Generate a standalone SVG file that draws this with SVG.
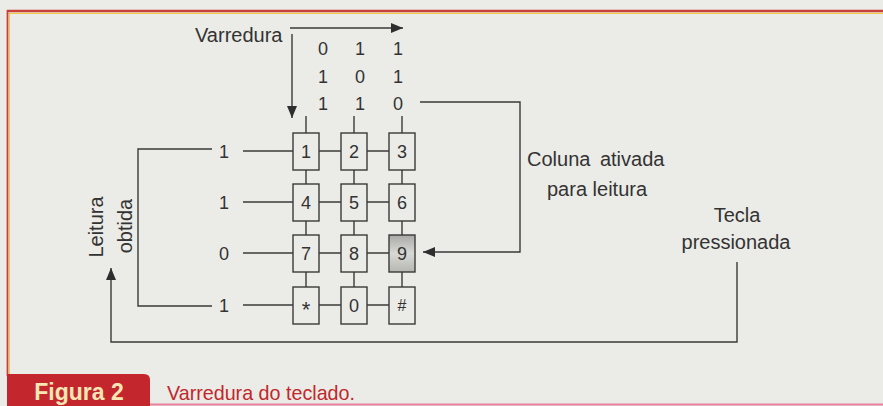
<svg xmlns="http://www.w3.org/2000/svg" width="883" height="406" viewBox="0 0 883 406">
<defs>
<style>
.t{font-family:"Liberation Sans",Arial,sans-serif;fill:#333;}
.lbl{font-size:20px;}
.dg{font-size:18px;text-anchor:middle;}
.ln{fill:none;stroke:#3a3a3a;stroke-width:1.4;}
.key{fill:#ebebe7;stroke:#3a3a3a;stroke-width:1.4;}
</style>
<marker id="ah" markerUnits="userSpaceOnUse" markerWidth="13" markerHeight="10" refX="12" refY="5" orient="auto">
<path d="M0,0 L12,5 L0,10 Z" fill="#2e2e2e"/>
</marker>
<linearGradient id="g9" x1="0" y1="0" x2="0" y2="1">
<stop offset="0" stop-color="#a9a9a7"/>
<stop offset="0.5" stop-color="#d8d8d4"/>
<stop offset="1" stop-color="#b5b5b2"/>
</linearGradient>
</defs>
<rect x="0" y="0" width="883" height="406" fill="#ebebe7"/>
<g id="frame">
<line x1="7" y1="11" x2="883" y2="11" stroke="#c9403a" stroke-width="2.5"/>
<line x1="9" y1="13.3" x2="883" y2="13.3" stroke="#f0c850" stroke-width="1.2"/>
<line x1="7.5" y1="10" x2="7.5" y2="376" stroke="#c9403a" stroke-width="1.8"/>
<line x1="9.3" y1="13" x2="9.3" y2="376" stroke="#f0b850" stroke-width="1"/>
<line x1="150" y1="404.5" x2="883" y2="404.5" stroke="#e8809c" stroke-width="2"/>
</g>
<g id="caption">
<path d="M7,374 H144 Q150,374 150,380 V406 H7 Z" fill="#c4262e"/>
<text class="t" x="79" y="400" font-size="23" font-weight="bold" text-anchor="middle" style="fill:#f7e6b4">Figura 2</text>
<text class="t" x="167" y="400" font-size="21" textLength="188" lengthAdjust="spacingAndGlyphs" style="fill:#c0282c">Varredura do teclado.</text>
</g>
<g id="connectors">
<path class="ln" d="M290,28 H403" marker-end="url(#ah)"/>
<line class="ln" x1="292" y1="34" x2="292" y2="118" marker-end="url(#ah)"/>
<line class="ln" x1="306" y1="116" x2="306" y2="300"/>
<line class="ln" x1="354" y1="116" x2="354" y2="300"/>
<line class="ln" x1="402" y1="116" x2="402" y2="300"/>
<line class="ln" x1="243" y1="151" x2="395" y2="151"/>
<line class="ln" x1="243" y1="202" x2="395" y2="202"/>
<line class="ln" x1="243" y1="253" x2="395" y2="253"/>
<line class="ln" x1="243" y1="305" x2="395" y2="305"/>
<path class="ln" d="M212,149 H138 V306 H212"/>
<path class="ln" d="M420,102 H520 V252 H423" marker-end="url(#ah)"/>
<path class="ln" d="M737,262 V342 H111 V268" marker-end="url(#ah)"/>
</g>
<g id="scan-label">
<text class="t lbl" x="195" y="42">Varredura</text>
</g>
<g id="scan-matrix" class="t dg">
<text x="323" y="55">0</text><text x="360" y="55">1</text><text x="398" y="55">1</text>
<text x="323" y="83">1</text><text x="360" y="83">0</text><text x="398" y="83">1</text>
<text x="323" y="110">1</text><text x="360" y="110">1</text><text x="398" y="110">0</text>
</g>
<g id="row-values" class="t dg">
<text x="224" y="157.5">1</text>
<text x="224" y="208.5">1</text>
<text x="224" y="259.5">0</text>
<text x="224" y="311.5">1</text>
</g>
<g id="key-1"><rect class="key" x="293" y="133" width="26" height="37"/><text class="t dg" x="306" y="157.5">1</text></g>
<g id="key-2"><rect class="key" x="341" y="133" width="26" height="37"/><text class="t dg" x="354" y="157.5">2</text></g>
<g id="key-3"><rect class="key" x="389" y="133" width="26" height="37"/><text class="t dg" x="402" y="157.5">3</text></g>
<g id="key-4"><rect class="key" x="293" y="184" width="26" height="37"/><text class="t dg" x="306" y="208.5">4</text></g>
<g id="key-5"><rect class="key" x="341" y="184" width="26" height="37"/><text class="t dg" x="354" y="208.5">5</text></g>
<g id="key-6"><rect class="key" x="389" y="184" width="26" height="37"/><text class="t dg" x="402" y="208.5">6</text></g>
<g id="key-7"><rect class="key" x="293" y="235" width="26" height="37"/><text class="t dg" x="306" y="259.5">7</text></g>
<g id="key-8"><rect class="key" x="341" y="235" width="26" height="37"/><text class="t dg" x="354" y="259.5">8</text></g>
<g id="key-9"><rect class="key" x="389" y="235" width="26" height="37" style="fill:url(#g9)"/><text class="t dg" x="402" y="259.5">9</text></g>
<g id="key-star"><rect class="key" x="293" y="287" width="26" height="37"/><text class="t" x="306" y="317" font-size="22" text-anchor="middle">*</text></g>
<g id="key-0"><rect class="key" x="341" y="287" width="26" height="37"/><text class="t dg" x="354" y="311.5">0</text></g>
<g id="key-hash"><rect class="key" x="389" y="287" width="26" height="37"/><text class="t" x="402" y="311" font-size="16" text-anchor="middle">#</text></g>
<g id="label-coluna" class="t lbl">
<text x="527" y="166" word-spacing="4">Coluna ativada</text>
<text x="547" y="196">para leitura</text>
</g>
<g id="label-tecla" class="t lbl" text-anchor="middle">
<text x="737" y="222">Tecla</text>
<text x="736" y="249">pressionada</text>
</g>
<g id="label-leitura" class="t lbl" text-anchor="middle">
<text transform="translate(103,227) rotate(-90)">Leitura</text>
<text transform="translate(132,226) rotate(-90)">obtida</text>
</g>
</svg>
